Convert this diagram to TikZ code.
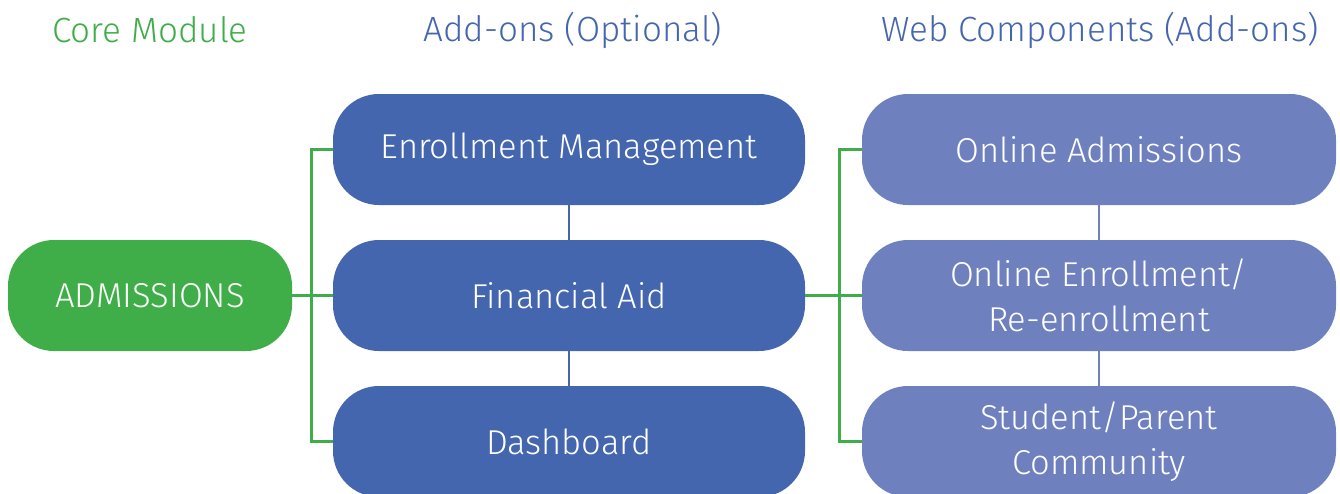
\documentclass[tikz,border=0pt]{standalone}
\usepackage{fontspec}
\setmainfont{Fira Sans Light}
\definecolor{cgreen}{HTML}{3FAE49}
\definecolor{cblue}{HTML}{4466AF}
\definecolor{clav}{HTML}{6F80BF}
\begin{document}
\begin{tikzpicture}[x=1pt,y=-1pt,
  box/.style={rounded corners=46pt, minimum height=111pt, text=white, align=center,
    font=\fontsize{34.5}{45}\selectfont, inner sep=0pt},
  corebox/.style={box, fill=cgreen, minimum width=284pt},
  addbox/.style={box, fill=cblue, minimum width=472pt},
  webbox/.style={box, fill=clav, minimum width=474pt},
  hdr/.style={font=\fontsize{35}{40}\selectfont, inner sep=0pt},
  gline/.style={draw=cgreen, line width=3pt},
  bline/.style={draw=cblue, line width=2pt},
  lline/.style={draw=clav, line width=2pt}]
\useasboundingbox (0,0) rectangle (1340,493);
\begin{scope}
\clip (0,0) rectangle (1340,493);
\node[hdr, text=cgreen] (h1) at (150,30) {Core Module};
\node[hdr, text=cblue] (h2) at (573,30) {Add-ons (Optional)};
\node[hdr, text=cblue] (h3) at (1100,30) {Web Components (Add-ons)};

\node[corebox] (adm) at (150,295.5) {ADMISSIONS};
\node[addbox] (em) at (569,149.5) {Enrollment Management};
\node[addbox] (fa) at (569,295.5) {Financial Aid};
\node[addbox] (db) at (569,441.5) {Dashboard};
\node[webbox] (oa) at (1099,149.5) {Online Admissions};
\node[webbox] (oe) at (1099,295.5) {Online Enrollment/\\Re-enrollment};
\node[webbox] (sp) at (1099,441.5) {Student/Parent\\Community};

\draw[bline] (em.south) -- (fa.north);
\draw[bline] (fa.south) -- (db.north);
\draw[lline] (oa.south) -- (oe.north);
\draw[lline] (oe.south) -- (sp.north);

\draw[gline] (adm.east) -- (fa.west);
\draw[gline] (em.west) -- ++(-21,0) |- (db.west);
\draw[gline] (fa.east) -- (oe.west);
\draw[gline] (oa.west) -- ++(-22,0) |- (sp.west);
\end{scope}
\end{tikzpicture}
\end{document}
